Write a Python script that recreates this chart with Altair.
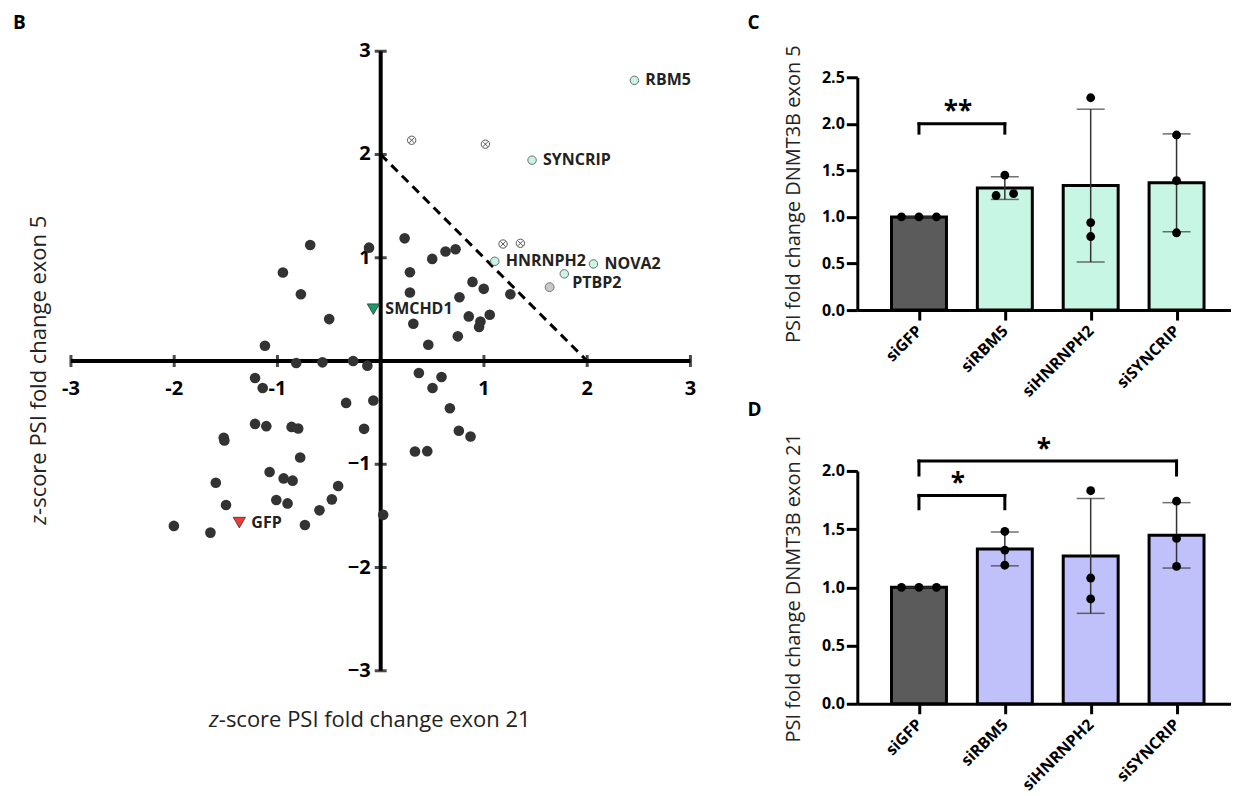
import altair as alt
import pandas as pd

FONT = "Open Sans"

# ---------------- Panel B: z-score scatter ----------------
dark_x = [-0.683, -0.113, -0.947, -0.773, -0.499, -1.121, -0.818, -0.564, -0.267, -0.129,
          0.232, 0.499, 0.628, 0.725, 0.283, 0.283, 0.889, 0.998, 0.763, 1.256,
          0.316, 0.853, 0.966, 1.056, 0.953, 0.461, 0.747,
          0.370, 0.589, 0.502, 0.670, 0.757, 0.870, 0.332, 0.451, 0.024,
          -1.217, -1.143, -0.335, -0.071, -1.217, -1.108, -0.863, -0.799, -0.161, -1.520,
          -1.514, -0.780, -1.076, -0.940, -0.853, -1.597, -0.412, -0.473, -1.011, -0.902,
          -1.498, -0.593, -2.003, -1.649, -0.734]
dark_y = [1.124, 1.098, 0.857, 0.647, 0.406, 0.148, -0.019, -0.013, 0.000, -0.045,
          1.188, 0.989, 1.060, 1.082, 0.860, 0.663, 0.766, 0.699, 0.618, 0.647,
          0.361, 0.432, 0.383, 0.448, 0.329, 0.158, 0.239,
          -0.116, -0.155, -0.261, -0.457, -0.676, -0.731, -0.876, -0.873, -1.490,
          -0.164, -0.261, -0.406, -0.383, -0.609, -0.631, -0.638, -0.654, -0.657, -0.744,
          -0.770, -0.934, -1.075, -1.137, -1.159, -1.179, -1.211, -1.340, -1.346, -1.379,
          -1.394, -1.446, -1.597, -1.662, -1.588]

hit_names = ["RBM5", "SYNCRIP", "HNRNPH2", "NOVA2", "PTBP2"]
hit_x = [2.457, 1.466, 1.105, 2.061, 1.778]
hit_y = [2.718, 1.945, 0.966, 0.940, 0.844]

crossed_x = [0.300, 1.014, 1.185, 1.353]
crossed_y = [2.138, 2.100, 1.133, 1.140]

gray_x = [1.636]
gray_y = [0.715]

ctrl_names = ["GFP", "SMCHD1"]
ctrl_x = [-1.369, -0.071]
ctrl_y = [-1.565, 0.502]

threshold_x = [0, 2]
threshold_y = [2, 0]

axis_ticks = [-3, -2, -1, 1, 2, 3]
x_tick_labels = ["-3", "-2", "-1", "1", "2", "3"]
y_tick_labels = ["\u22123", "\u22122", "\u22121", "1", "2", "3"]
axis_min, axis_max = -3, 3

# ---------------- Panels C / D: bar charts ----------------
groups = ["siGFP", "siRBM5", "siHNRNPH2", "siSYNCRIP"]
rep_idx = [i for i in range(len(groups)) for _ in range(3)]

c_vals = [1.00, 1.00, 1.00, 1.45, 1.23, 1.25, 2.28, 0.94, 0.79, 1.88, 1.39, 0.83]
c_dodge = [-2, 0, 2, 0, -1, 1, 0, 0, 0, 0, 0, 0]
d_vals = [1.00, 1.00, 1.00, 1.48, 1.32, 1.19, 1.83, 1.08, 0.90, 1.74, 1.42, 1.18]
d_dodge = [-2, 0, 2, 0, 0, 0, 0, 0, 0, 0, 0, 0]

c_br_from = [0]
c_br_to = [1]
c_br_top = [2.0]
c_br_leg = [1.9]
c_star_y = [2.19]
c_star_txt = ["**"]

d_br_from = [0, 0]
d_br_to = [1, 3]
d_br_top = [1.79, 2.085]
d_br_leg = [1.675, 1.965]
d_star_y = [1.935, 2.235]
d_star_txt = ["*", "*"]

# ---------------- build panel B ----------------
# plot area top is shared with panel C; the y axis extends above it (unclipped)
B_TOP = 2.748
xsB = alt.Scale(domain=[axis_min, axis_max], nice=False, zero=False)
ysB = alt.Scale(domain=[axis_min, B_TOP], nice=False, zero=False)


def bx(f):
    return alt.X(f, type="quantitative", scale=xsB, axis=None)


def by(f):
    return alt.Y(f, type="quantitative", scale=ysB, axis=None)


axes_df = pd.DataFrame({"x1": [axis_min, 0], "x2": [axis_max, 0],
                        "y1": [0, axis_min], "y2": [0, axis_max]})
axes_lines = alt.Chart(axes_df).mark_rule(strokeWidth=4, color="black").encode(
    x=bx("x1"), x2=alt.X2("x2"), y=by("y1"), y2=alt.Y2("y2"))

xt_df = pd.DataFrame({"v": axis_ticks, "zero": [0] * len(axis_ticks), "lab": x_tick_labels})
yt_df = pd.DataFrame({"v": axis_ticks, "zero": [0] * len(axis_ticks), "lab": y_tick_labels})

x_ticks = alt.Chart(xt_df).mark_tick(orient="vertical", size=12, thickness=3, color="black").encode(
    x=bx("v"), y=by("zero"))
y_ticks = alt.Chart(yt_df).mark_tick(orient="horizontal", size=12, thickness=3, color="black").encode(
    x=bx("zero"), y=by("v"))
x_tlab = alt.Chart(xt_df).mark_text(fontSize=20, fontWeight="bold", baseline="middle", dy=28,
                                    color="black").encode(x=bx("v"), y=by("zero"), text="lab:N")
y_tlab = alt.Chart(yt_df).mark_text(fontSize=20, fontWeight="bold", baseline="middle", align="right",
                                    dx=-10, color="black").encode(x=bx("zero"), y=by("v"), text="lab:N")

thr = alt.Chart(pd.DataFrame({"x": threshold_x, "y": threshold_y})).mark_line(
    strokeDash=[9, 6], strokeWidth=3, color="black").encode(x=bx("x"), y=by("y"))

dark = alt.Chart(pd.DataFrame({"x": dark_x, "y": dark_y})).mark_circle(
    size=113, color="#333333", opacity=1).encode(x=bx("x"), y=by("y"))

hits_df = pd.DataFrame({"x": hit_x, "y": hit_y, "name": hit_names})
hits = alt.Chart(hits_df).mark_point(
    shape="circle", size=72, filled=True, fill="#c8f5e3", stroke="#6b6b6b", strokeWidth=1,
    opacity=1).encode(x=bx("x"), y=by("y"))

cross_shape = ("M -1 0 A 1 1 0 1 0 1 0 A 1 1 0 1 0 -1 0 Z "
               "M -0.62 -0.62 L 0.62 0.62 M -0.62 0.62 L 0.62 -0.62")
crossed = alt.Chart(pd.DataFrame({"x": crossed_x, "y": crossed_y})).mark_point(
    shape=cross_shape, size=70, filled=True, fill="white", stroke="#555555", strokeWidth=1,
    opacity=1).encode(x=bx("x"), y=by("y"))

grayp = alt.Chart(pd.DataFrame({"x": gray_x, "y": gray_y})).mark_point(
    shape="circle", size=80, filled=True, fill="#c8c8c8", stroke="#777777", strokeWidth=1,
    opacity=1).encode(x=bx("x"), y=by("y"))

ctrl_df = pd.DataFrame({"x": ctrl_x, "y": ctrl_y, "name": ctrl_names})
ctrl = alt.Chart(ctrl_df).mark_point(
    shape="triangle-down", size=150, filled=True, stroke="#333333", strokeWidth=0.8,
    opacity=1).encode(
    x=bx("x"), y=by("y"),
    fill=alt.Fill("name:N", scale=alt.Scale(domain=ctrl_names, range=["#f03a3a", "#199c6a"]),
                  legend=None))

lab_main = alt.Chart(hits_df).transform_filter("datum.name != 'PTBP2'").mark_text(
    fontSize=16, fontWeight="bold", align="left", baseline="middle", dx=11, color="#222222").encode(
    x=bx("x"), y=by("y"), text="name:N")
lab_ptbp2 = alt.Chart(hits_df).transform_filter("datum.name == 'PTBP2'").mark_text(
    fontSize=16, fontWeight="bold", align="left", baseline="middle", dx=8, dy=9, color="#222222").encode(
    x=bx("x"), y=by("y"), text="name:N")
lab_ctrl = alt.Chart(ctrl_df).mark_text(
    fontSize=16, fontWeight="bold", align="left", baseline="middle", dx=12, color="#222222").encode(
    x=bx("x"), y=by("y"), text="name:N")

txt = pd.DataFrame({"t": ["z"], "r": ["-score PSI fold change exon 21"],
                    "r5": ["-score PSI fold change exon 5"], "b": ["B"]})
tbase = alt.Chart(txt)
xt_z = tbase.mark_text(fontSize=22, fontStyle="italic", align="right", baseline="middle",
                       color="#222222").encode(x=alt.value(148), y=alt.value(643), text="t:N")
xt_r = tbase.mark_text(fontSize=22, align="left", baseline="middle",
                       color="#222222").encode(x=alt.value(148), y=alt.value(643), text="r:N")
yt_z = tbase.mark_text(fontSize=22, fontStyle="italic", align="right", baseline="middle", angle=270,
                       color="#222222").encode(x=alt.value(-32), y=alt.value(438), text="t:N")
yt_r = tbase.mark_text(fontSize=22, align="left", baseline="middle", angle=270,
                       color="#222222").encode(x=alt.value(-32), y=alt.value(438), text="r5:N")
letter_b = tbase.mark_text(fontSize=19, fontWeight="bold", align="left", baseline="top",
                           color="black").encode(x=alt.value(-58), y=alt.value(-63.5), text="b:N")

panel_b = alt.layer(
    axes_lines, x_ticks, y_ticks, x_tlab, y_tlab, thr, dark, crossed, grayp, hits, ctrl,
    lab_main, lab_ptbp2, lab_ctrl, xt_z, xt_r, yt_z, yt_r, letter_b
).properties(width=620, height=594)


# ---------------- build panels C and D ----------------
DODGE = 0.102
label_expr = "[" + ",".join("'" + g + "'" for g in groups) + "][datum.value]"


def bar_panel(vals, dodge, fills, ymax, ytitle, br_from, br_to, br_top, br_leg, star_y, star_txt,
              letter, letter_y, height):
    df = pd.DataFrame({"idx": rep_idx, "v": vals, "dodge": dodge})
    xsc = alt.Scale(domain=[-0.66, 3.576], nice=False, zero=False)
    ysc = alt.Scale(domain=[0, ymax], nice=False, zero=True)
    yvals = [round(i * 0.5, 1) for i in range(int(round(ymax / 0.5)) + 1)]
    xaxis = alt.Axis(values=list(range(len(groups))), labelExpr=label_expr, labelAngle=-45,
                     labelAlign="right", labelBaseline="middle",
                     labelFontSize=16, labelFontWeight="bold", labelColor="black",
                     tickSize=10, tickWidth=3, tickColor="black", domainWidth=3,
                     domainColor="black", grid=False, labelPadding=8)
    yaxis = alt.Axis(values=yvals, format=".1f", labelFontSize=16, labelFontWeight="bold",
                     labelColor="black", tickSize=11, tickWidth=3, tickColor="black",
                     domainWidth=3, domainColor="black", grid=False, labelPadding=2,
                     titleFontSize=20, titleFontWeight="normal", titleColor="#222222",
                     titlePadding=18)

    def X(f):
        return alt.X(f, type="quantitative", scale=xsc, axis=xaxis, title=None)

    def Y(f):
        return alt.Y(f, type="quantitative", scale=ysc, axis=yaxis, title=ytitle)

    base = alt.Chart(df)
    bars = base.transform_aggregate(mean="mean(v)", groupby=["idx"]).mark_bar(
        size=55, stroke="black", strokeWidth=3).encode(
        x=X("idx"), y=Y("mean"),
        color=alt.Color("idx:N", scale=alt.Scale(domain=list(range(len(groups))), range=fills),
                        legend=None))
    stats = base.transform_aggregate(mean="mean(v)", sd="stdev(v)", groupby=["idx"]).transform_calculate(
        lo="datum.mean - datum.sd", hi="datum.mean + datum.sd")
    err = stats.mark_rule(strokeWidth=1.5, color="#333333").encode(
        x=X("idx"), y=Y("lo"), y2="hi:Q")
    caps = stats.transform_fold(["lo", "hi"], as_=["k", "yv"]).mark_tick(
        orient="horizontal", size=28, thickness=1.5, color="#333333").encode(
        x=X("idx"), y=Y("yv"))
    pts = base.transform_calculate(xj="datum.idx + datum.dodge * %f" % DODGE).mark_circle(
        size=78, color="black", opacity=1).encode(x=X("xj"), y=Y("v"))
    bdf = pd.DataFrame({"x_from": br_from, "x_to": br_to, "top": br_top, "leg": br_leg,
                        "sy": star_y, "t": star_txt})
    bb = alt.Chart(bdf)
    hbar = bb.mark_rule(strokeWidth=3, color="black", strokeCap="square").encode(
        x=X("x_from"), x2="x_to:Q", y=Y("top"))
    legs = bb.transform_fold(["x_from", "x_to"], as_=["end", "xe"]).mark_rule(
        strokeWidth=3, color="black", strokeCap="square").encode(
        x=X("xe"), y=Y("top"), y2="leg:Q")
    stars = bb.transform_calculate(mid="(datum.x_from + datum.x_to) / 2").mark_text(
        fontSize=26, fontWeight="bold", baseline="middle", dx=-4, dy=6, color="black").encode(
        x=X("mid"), y=Y("sy"), text="t:N")
    let = alt.Chart(pd.DataFrame({"t": [letter]})).mark_text(
        fontSize=19, fontWeight="bold", align="left", baseline="top", color="black").encode(
        x=alt.value(-110), y=alt.value(letter_y), text="t:N")
    return alt.layer(bars, err, caps, pts, hbar, legs, stars, let).properties(
        width=374, height=height)


mint = "#c8f6e5"
lav = "#c0c0fa"
dark_bar = "#5b5b5b"

panel_c = bar_panel(c_vals, c_dodge, [dark_bar, mint, mint, mint], 2.5,
                    "PSI fold change DNMT3B exon 5", c_br_from, c_br_to, c_br_top, c_br_leg,
                    c_star_y, c_star_txt, "C", -63.5, 233)
panel_d = bar_panel(d_vals, d_dodge, [dark_bar, lav, lav, lav], 2.0,
                    "PSI fold change DNMT3B exon 21", d_br_from, d_br_to, d_br_top, d_br_leg,
                    d_star_y, d_star_txt, "D", -70, 233)

right = alt.vconcat(panel_c, panel_d, spacing=1).resolve_scale(color="independent")
chart = alt.hconcat(panel_b, right, spacing=51).properties(
    padding={"left": 5, "top": 5, "right": 0, "bottom": 0}
).configure(font=FONT).configure_view(stroke=None)

chart.save("out.html", embed_options={"renderer": "svg", "actions": False})
